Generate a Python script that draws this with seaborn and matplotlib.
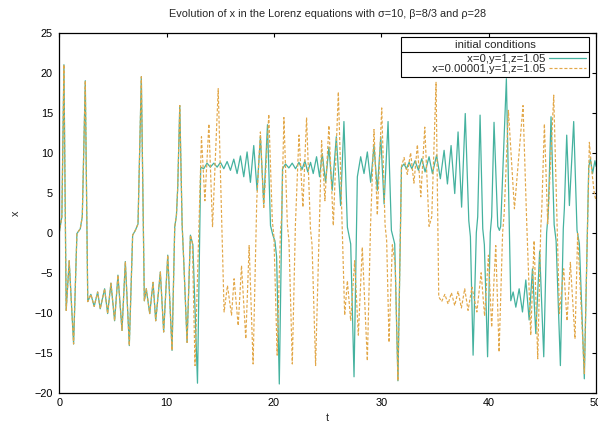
import numpy as np
import pandas as pd
import matplotlib
matplotlib.use("Agg")
import matplotlib.pyplot as plt
from matplotlib.lines import Line2D
import seaborn as sns

# values (t, x)
# both runs overlap until t ~ 12.2
shared_t = [0.0, 0.25, 0.44, 0.65, 0.93, 1.34, 1.65, 1.96, 2.15, 2.43, 2.66, 2.95, 3.26, 3.58,
            3.82, 4.23, 4.51, 4.82, 5.16, 5.47, 5.85, 6.16, 6.53, 6.84, 7.09, 7.34, 7.65, 7.93,
            8.11, 8.43, 8.74, 8.99, 9.42, 9.73, 10.11, 10.51, 10.76, 10.92, 11.04, 11.23, 11.45,
            11.6, 11.91, 12.22]
shared_x = [0.0, 2.0, 21.0, -9.7, -3.5, -13.9, -0.1, 0.5, 2.0, 19.0, -8.6, -7.7, -9.2, -7.4,
            -9.5, -7.0, -10.1, -6.3, -11.0, -5.3, -12.2, -3.6, -14.1, -0.3, 0.3, 1.1, 19.5, -8.5,
            -7.0, -10.1, -6.2, -11.0, -4.9, -12.4, -2.8, -14.7, 0.7, 2.2, 5.7, 15.9, 1.0,
            -3.5, -13.7, -0.3]

# x=0, y=1, z=1.05 after the split
teal_t = [12.45, 12.88, 13.18, 13.46, 13.77, 14.08, 14.40, 14.71, 15.02, 15.33, 15.64, 15.95,
          16.26, 16.57, 16.88, 17.19, 17.50, 17.81, 18.12, 18.43, 18.74, 19.05, 19.40, 19.68,
          19.90, 20.09, 20.25, 20.50, 20.80, 21.08, 21.39, 21.70, 22.01, 22.33, 22.62, 22.88,
          23.15, 23.41, 23.66, 23.97, 24.25, 24.50, 24.81, 25.12, 25.43, 25.81, 26.21, 26.52,
          26.84, 27.15, 27.46, 27.77, 28.08, 28.39, 28.70, 29.01, 29.32, 29.63, 29.95, 30.26,
          30.63, 30.94, 31.25, 31.55, 31.88, 32.12, 32.34, 32.59, 32.84, 33.15, 33.46, 33.77,
          34.08, 34.45, 34.76, 35.15, 35.50, 35.85, 36.16, 36.50, 36.84, 37.15, 37.48, 37.82,
          38.15, 38.30, 38.55, 38.85, 38.98, 39.20, 39.45, 39.60, 39.90, 40.15, 40.28, 40.50,
          40.85, 41.00, 41.12, 41.65, 42.06, 42.28, 42.53, 42.84, 43.15, 43.46, 43.77, 44.08,
          44.39, 44.75, 45.13, 45.40, 45.55, 45.81, 46.10, 46.28, 46.68, 46.95, 47.05, 47.27,
          47.52, 47.92, 48.23, 48.45, 48.91, 49.32, 49.47, 49.68, 49.90, 50.0]
teal_x = [-1.5, -18.8, 8.2, 8.0, 8.7, 8.2, 8.7, 8.2, 8.8, 8.0, 8.9, 7.8,
          9.2, 7.4, 9.6, 7.0, 10.1, 6.3, 10.9, 5.3, 12.0, 3.6, 13.5, 0.9,
          -0.3, -1.0, -3.0, -18.9, 8.0, 8.6, 8.1, 8.7, 8.0, 8.8, 7.9, 9.0,
          7.6, 8.8, 7.4, 9.5, 7.0, 9.9, 6.3, 10.7, 5.3, 12.0, 3.4, 13.9,
          0.7, -1.4, -18.0, 7.0, 9.5, 7.4, 10.1, 6.3, 10.9, 5.3, 12.0, 3.6,
          13.9, 0.3, -1.4, -18.5, 8.2, 8.6, 8.0, 8.8, 8.0, 9.0, 7.8, 9.25,
          7.6, 9.5, 7.4, 9.7, 6.75, 10.3, 6.1, 10.9, 4.9, 12.6, 3.2, 14.9,
          1.5, -0.5, -15.3, 0.0, 2.0, 14.7, 0.5, -1.5, -15.5, 0.0, 2.0, 13.8,
          0.8, 0.3, 0.8, 19.25, -8.5, -7.4, -9.3, -7.0, -9.9, -5.9, -10.9, -4.5,
          -12.6, -2.3, -15.5, 0.0, 2.5, 14.5, 1.0, -1.0, -16.6, 0.5, 3.0, 12.2,
          3.4, 13.9, 0.3, -1.4, -18.25, 8.2, 9.25, 7.4, 9.0, 8.3]

# x=0.00001, y=1, z=1.05 after the split
orange_t = [12.40, 12.65, 13.25, 13.57, 13.94, 14.28, 14.81, 15.36, 15.67, 16.05, 16.29, 16.67,
            16.98, 17.38, 17.69, 18.06, 18.40, 18.74, 19.05, 19.52, 19.85, 20.00, 20.30, 20.60,
            20.72, 20.93, 21.25, 21.40, 21.71, 22.00, 22.33, 22.70, 23.04, 23.40, 23.55, 23.88,
            24.44, 24.75, 25.12, 25.53, 26.00, 26.59, 26.84, 27.15, 27.52, 27.86, 28.23, 28.70,
            29.00, 29.32, 29.63, 30.04, 30.35, 30.50, 30.72, 31.03, 31.30, 31.55, 31.88, 32.12,
            32.42, 32.73, 33.04, 33.36, 33.68, 34.05, 34.45, 34.70, 35.10, 35.35, 35.62, 35.92,
            36.22, 36.53, 36.84, 37.15, 37.46, 37.77, 38.08, 38.45, 38.90, 39.30, 39.62, 39.98,
            40.28, 40.66, 40.97, 41.30, 41.45, 41.84, 42.40, 43.20, 43.55, 43.92, 44.23, 44.57,
            44.85, 44.95, 45.19, 45.50, 46.06, 46.59, 46.99, 47.30, 47.61, 48.04, 48.29, 48.91,
            49.38, 49.60, 49.84, 50.0]
orange_x = [-1.2, -16.6, 12.0, 4.0, 13.6, 0.7, 18.0, -9.9, -6.6, -10.3, -5.75, -11.6,
            -4.1, -13.25, -1.6, -16.4, 4.0, 12.6, 3.0, 14.8, 1.5, -0.5, -15.3, 0.0,
            2.0, 14.4, 1.0, -1.0, -16.4, 1.0, 12.2, 3.2, 14.4, 0.5, -1.5, -16.6,
            11.5, 4.0, 13.4, 0.9, 17.6, -10.3, -6.0, -11.0, -3.5, -12.8, -1.8, -16.0,
            1.0, 12.9, 2.2, 15.6, 1.0, -1.0, -13.7, -1.5, -4.0, -18.5, 8.3, 9.4,
            7.3, 10.0, 6.2, 11.0, 4.5, 13.2, 0.8, 2.0, 18.8, -8.0, -8.6, -7.7,
            -8.9, -7.5, -9.1, -7.3, -9.4, -7.0, -9.7, -6.8, -9.9, -5.0, -10.4, -2.8,
            -11.8, -1.6, -14.9, 0.0, 2.5, 15.3, 3.0, 15.9, 1.0, -12.8, -1.0, -15.75,
            0.5, 3.0, 13.6, 1.1, 17.2, -10.1, -4.5, -11.0, -3.7, -13.25, -0.1, -17.6,
            11.3, 7.8, 4.9, 4.0]

labels = ["x=0,y=1,z=1.05", "x=0.00001,y=1,z=1.05"]
colors = ["#45b29f", "#e2a748"]

run_a = pd.DataFrame({"t": shared_t + teal_t, "x": shared_x + teal_x})
run_b = pd.DataFrame({"t": shared_t + orange_t, "x": shared_x + orange_x})

sns.set_theme(style="white")
plt.rcParams["font.family"] = ["Liberation Sans", "DejaVu Sans"]
plt.rcParams["font.size"] = 7.8

fig = plt.figure(figsize=(5.98, 4.21), dpi=100)
ax = fig.add_axes([0.099, 0.067, 0.8977, 0.8553])

sns.lineplot(data=run_a, x="t", y="x", ax=ax, color=colors[0], lw=0.9,
             sort=False, estimator=None, label=labels[0])
sns.lineplot(data=run_b, x="t", y="x", ax=ax, color=colors[1], lw=0.85,
             sort=False, estimator=None, label=labels[1])
ax.lines[1].set_dashes((2.6, 1.6))
for ln in ax.lines:
    ln.set_solid_joinstyle("round")
    ln.set_dash_joinstyle("round")

ax.set_xlim(0, 50)
ax.set_ylim(-20, 25)
ax.set_xticks(np.arange(0, 51, 10))
ax.set_yticks(np.arange(-20, 26, 5))
ax.tick_params(direction="in", top=True, right=True, length=3, width=0.8,
               labelsize=7.8, colors="black")
ax.tick_params(axis="x", pad=4)
ax.tick_params(axis="y", pad=4.5)
for s in ax.spines.values():
    s.set_visible(True)
    s.set_color("black")
    s.set_linewidth(0.9)

ax.set_xlabel("t", fontsize=7.8, labelpad=3)
ax.set_ylabel("x", fontsize=7.8, labelpad=10)
ax.set_title("Evolution of x in the Lorenz equations with \u03c3=10, \u03b2=8/3 and \u03c1=28",
             fontsize=7.8, pad=11)

# gnuplot keeps a wide empty margin left of the key text
leg_labels = ["         " + s for s in labels]
handles = ax.get_legend_handles_labels()[0]
leg = ax.legend(handles, leg_labels, title="initial conditions", loc="upper right",
                bbox_to_anchor=(0.987, 0.987), borderaxespad=0, fancybox=False,
                edgecolor="black", framealpha=1, markerfirst=False, handlelength=3.3,
                handletextpad=0.3, borderpad=0.25, labelspacing=0.0,
                fontsize=8.2, title_fontsize=8.2)
leg.get_frame().set_linewidth(0.8)
leg._legend_box.sep = 3.0

# gnuplot style line under the legend title
fig.canvas.draw()
rend = fig.canvas.get_renderer()
tb = leg.get_title().get_window_extent(rend)
hb = leg._legend_handle_box.get_window_extent(rend)
lb = leg.get_window_extent(rend)
ymid = (tb.y0 + hb.y1) / 2
inv = fig.transFigure.inverted()
x0, y0 = inv.transform((lb.x0, ymid))
x1, _ = inv.transform((lb.x1, ymid))
fig.add_artist(Line2D([x0, x1], [y0, y0], transform=fig.transFigure, color="black", lw=0.8))

fig.savefig("out.png", dpi=100)
